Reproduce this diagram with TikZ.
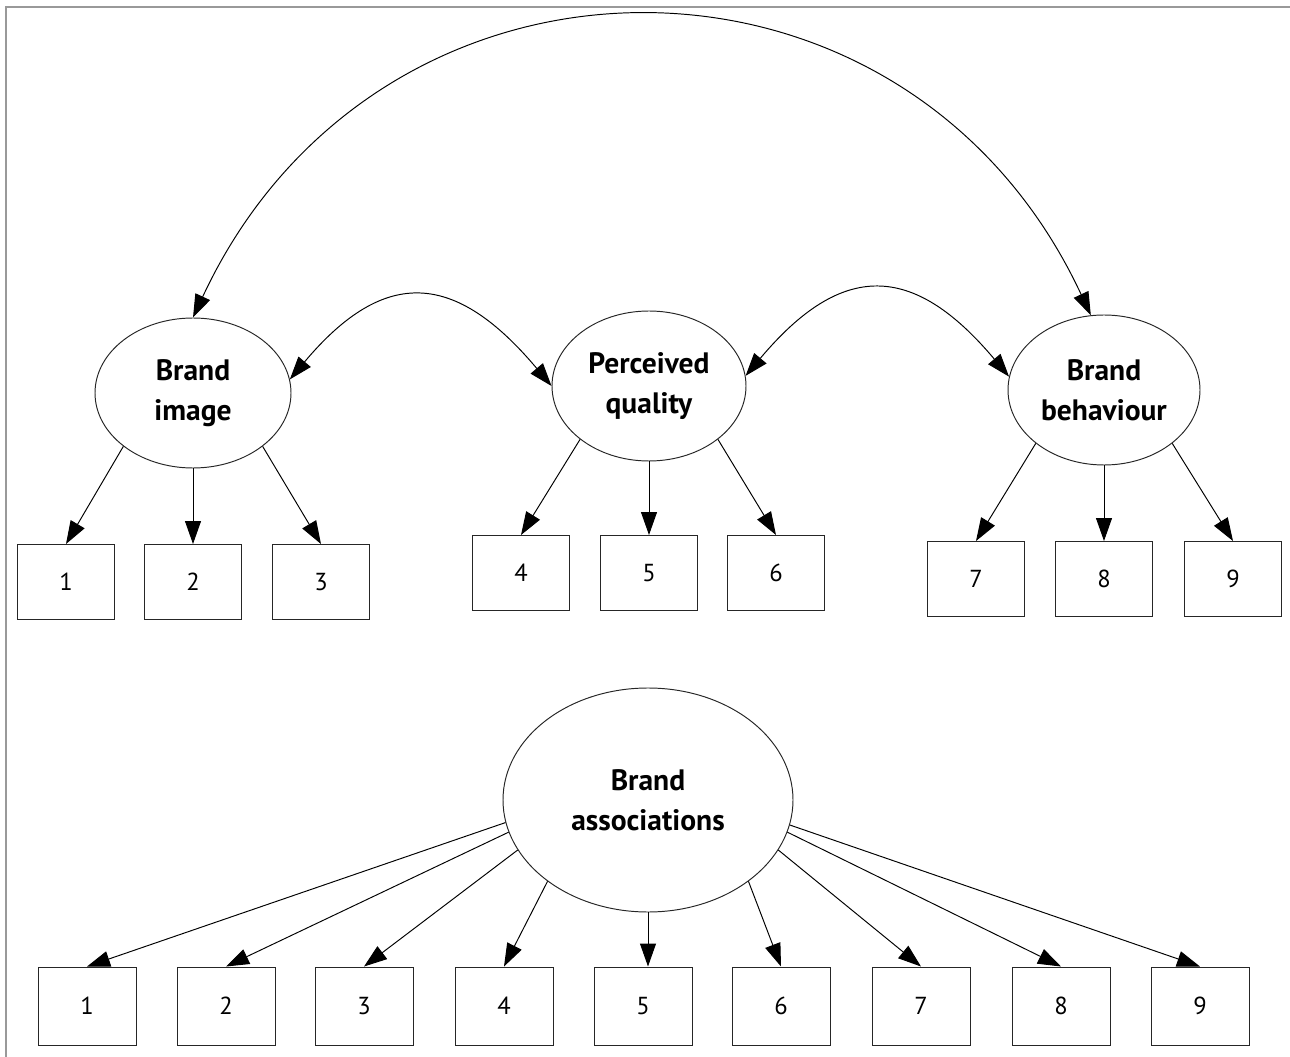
\documentclass[tikz,border=0pt]{standalone}
\usepackage{fontspec}
\setmainfont{PT Sans}
\usetikzlibrary{arrows.meta,shapes.geometric}
\tikzstyle{lv}=[shape=ellipse,
                draw=black!85,
                inner sep=0pt,
                align=center,
                font=\bfseries\fontsize{16.8}{22.8}\selectfont]
\tikzstyle{mv}=[shape=rectangle,
                draw=black!85,
                inner sep=0pt,
                minimum height=1.5cm,
                minimum width=1.94cm,
                font=\fontsize{14}{16}\selectfont]

\begin{document}
\begin{tikzpicture}[>={Triangle[length=0.46cm,width=0.32cm]},line width=0.55pt]
\useasboundingbox (0,0) rectangle (25.8,-21.14);
\draw[black!40,line width=1.1pt] (0.12,-21.14) -- (0.12,-0.14) -- (25.8,-0.14);

\node[lv,minimum width=3.92cm,minimum height=3cm] (f1) at (3.86,-7.86)  {Brand\\image};
\node[lv,minimum width=3.88cm,minimum height=3cm] (f2) at (12.98,-7.72) {Perceived\\quality};
\node[lv,minimum width=3.84cm,minimum height=3cm] (f3) at (22.08,-7.80) {Brand\\behaviour};

\node[mv] (x1) at (1.32,-11.64)  {1};
\node[mv] (x2) at (3.86,-11.64)  {2};
\node[mv] (x3) at (6.42,-11.64)  {3};
\node[mv] (x4) at (10.42,-11.46) {4};
\node[mv] (x5) at (12.98,-11.46) {5};
\node[mv] (x6) at (15.52,-11.46) {6};
\node[mv] (x7) at (19.52,-11.58) {7};
\node[mv] (x8) at (22.08,-11.58) {8};
\node[mv] (x9) at (24.66,-11.58) {9};

\begin{scope}[yshift=-20.12cm]
\node[lv,minimum width=5.8cm,minimum height=4.48cm] (f4) at (12.96,4.12) {Brand\\associations};
\node[mv,minimum height=1.56cm,minimum width=1.96cm] (z1) at (1.74,0)  {1};
\node[mv,minimum height=1.56cm,minimum width=1.96cm] (z2) at (4.52,0)  {2};
\node[mv,minimum height=1.56cm,minimum width=1.96cm] (z3) at (7.28,0)  {3};
\node[mv,minimum height=1.56cm,minimum width=1.96cm] (z4) at (10.08,0) {4};
\node[mv,minimum height=1.56cm,minimum width=1.96cm] (z5) at (12.86,0) {5};
\node[mv,minimum height=1.56cm,minimum width=1.96cm] (z6) at (15.62,0) {6};
\node[mv,minimum height=1.56cm,minimum width=1.96cm] (z7) at (18.42,0) {7};
\node[mv,minimum height=1.56cm,minimum width=1.96cm] (z8) at (21.22,0) {8};
\node[mv,minimum height=1.56cm,minimum width=1.96cm] (z9) at (24.00,0) {9};
\end{scope}

% correlations
\draw[<->] (f1.north) to[out=65,in=115,looseness=1.25] (f3.100);
\draw[<->] (f1.8) to[out=50,in=130,looseness=1.45] (f2.west);
\draw[<->] (f2.6) to[out=50,in=130,looseness=1.45] (f3.172);

\path[->] (f1.south west) edge (x1.north)
          (f1.south)      edge (x2.north)
          (f1.south east) edge (x3.north)

          (f2.south west) edge (x4.north)
          (f2.south)      edge (x5.north)
          (f2.south east) edge (x6.north)

          (f3.south west) edge (x7.north)
          (f3.south)      edge (x8.north)
          (f3.south east) edge (x9.north);

\path[->] (f4.189.5) edge (z1.north)
          (f4.193)   edge (z2.north)
          (f4.201)   edge (z3.north)
          (f4.219)   edge (z4.north)
          (f4.south) edge (f4.south |- z5.north)
          (f4.321)   edge (z6.north)
          (f4.339)   edge (z7.north)
          (f4.347)   edge (z8.north)
          (f4.350.5) edge (z9.north);
\end{tikzpicture}
\end{document}
